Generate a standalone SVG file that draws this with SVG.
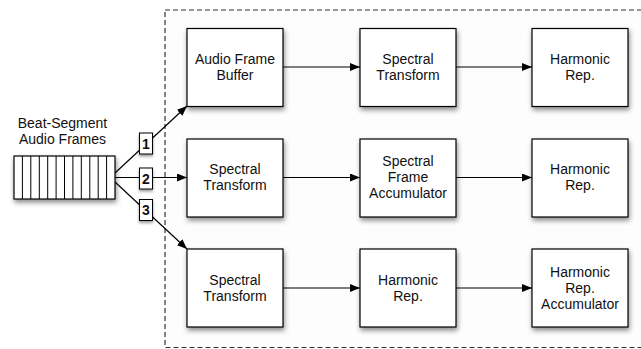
<svg xmlns="http://www.w3.org/2000/svg" width="641" height="349" viewBox="0 0 641 349">
<defs>
<filter id="sh" x="-20%" y="-20%" width="150%" height="150%">
<feDropShadow dx="1" dy="3" stdDeviation="2.5" flood-color="#000" flood-opacity="0.45"/>
</filter>
<filter id="shs" x="-20%" y="-20%" width="150%" height="150%">
<feDropShadow dx="0" dy="2" stdDeviation="1.5" flood-color="#000" flood-opacity="0.4"/>
</filter>
<marker id="ah" viewBox="0 0 10 8" refX="10" refY="4" markerWidth="10" markerHeight="8" markerUnits="userSpaceOnUse" orient="auto">
<path d="M0,0 L10,4 L0,8 Z" fill="#000"/>
</marker>
<style>
.box{fill:#fff;stroke:#000;stroke-width:1.2;filter:url(#sh)}
.lbl{fill:#fff;stroke:#000;stroke-width:1;filter:url(#shs)}
text{font-family:"Liberation Sans",Arial,Helvetica,sans-serif;font-size:14px;fill:#111;text-anchor:middle}
.num{font-weight:bold;font-size:14px}
.con{stroke:#000;stroke-width:1.2;fill:none}
</style>
</defs>
<rect width="641" height="349" fill="#fff"/>
<rect id="container" x="165" y="10" width="490" height="337.5" fill="#fdfdfd" stroke="#333" stroke-width="1.2" stroke-dasharray="5,3"/>

<g id="connectors">
<line class="con" x1="115" y1="173" x2="187" y2="106" marker-end="url(#ah)"/>
<line class="con" x1="115" y1="177.5" x2="187" y2="177.5" marker-end="url(#ah)"/>
<line class="con" x1="115" y1="182" x2="187" y2="249" marker-end="url(#ah)"/>
<line class="con" x1="283" y1="67" x2="360" y2="67" marker-end="url(#ah)"/>
<line class="con" x1="456" y1="67" x2="532" y2="67" marker-end="url(#ah)"/>
<line class="con" x1="283" y1="177.5" x2="360" y2="177.5" marker-end="url(#ah)"/>
<line class="con" x1="456" y1="177.5" x2="532" y2="177.5" marker-end="url(#ah)"/>
<line class="con" x1="283" y1="288" x2="360" y2="288" marker-end="url(#ah)"/>
<line class="con" x1="456" y1="288" x2="532" y2="288" marker-end="url(#ah)"/>
</g>

<g id="frames">
<text x="62.5" y="128">Beat-Segment</text>
<text x="62.5" y="144">Audio Frames</text>
<rect class="box" x="14" y="156" width="101" height="43"/>
<path d="M22.4,156V199M30.8,156V199M39.3,156V199M47.7,156V199M56.1,156V199M64.5,156V199M72.9,156V199M81.3,156V199M89.8,156V199M98.2,156V199M106.6,156V199" stroke="#000" stroke-width="1"/>
</g>

<g id="label1"><rect class="lbl" x="139.5" y="133" width="13" height="21"/><text class="num" x="146" y="148.5">1</text></g>
<g id="label2"><rect class="lbl" x="139.5" y="168" width="13" height="21"/><text class="num" x="146" y="183.5">2</text></g>
<g id="label3"><rect class="lbl" x="139.5" y="199.5" width="13" height="21"/><text class="num" x="146" y="215">3</text></g>

<g id="r1c1"><rect class="box" x="187" y="28.5" width="96" height="78"/><text x="235" y="63.5">Audio Frame</text><text x="235" y="79.5">Buffer</text></g>
<g id="r1c2"><rect class="box" x="360" y="28.5" width="96" height="78"/><text x="408" y="63.5">Spectral</text><text x="408" y="79.5">Transform</text></g>
<g id="r1c3"><rect class="box" x="532" y="28.5" width="96" height="78"/><text x="580" y="63.5">Harmonic</text><text x="580" y="79.5">Rep.</text></g>

<g id="r2c1"><rect class="box" x="187" y="139" width="96" height="78"/><text x="235" y="174">Spectral</text><text x="235" y="190">Transform</text></g>
<g id="r2c2"><rect class="box" x="360" y="139" width="96" height="78"/><text x="408" y="166">Spectral</text><text x="408" y="182">Frame</text><text x="408" y="198">Accumulator</text></g>
<g id="r2c3"><rect class="box" x="532" y="139" width="96" height="78"/><text x="580" y="174">Harmonic</text><text x="580" y="190">Rep.</text></g>

<g id="r3c1"><rect class="box" x="187" y="249" width="96" height="78"/><text x="235" y="284.5">Spectral</text><text x="235" y="300.5">Transform</text></g>
<g id="r3c2"><rect class="box" x="360" y="249" width="96" height="78"/><text x="408" y="284.5">Harmonic</text><text x="408" y="300.5">Rep.</text></g>
<g id="r3c3"><rect class="box" x="532" y="249" width="96" height="78"/><text x="580" y="277">Harmonic</text><text x="580" y="293">Rep.</text><text x="580" y="309">Accumulator</text></g>
</svg>
